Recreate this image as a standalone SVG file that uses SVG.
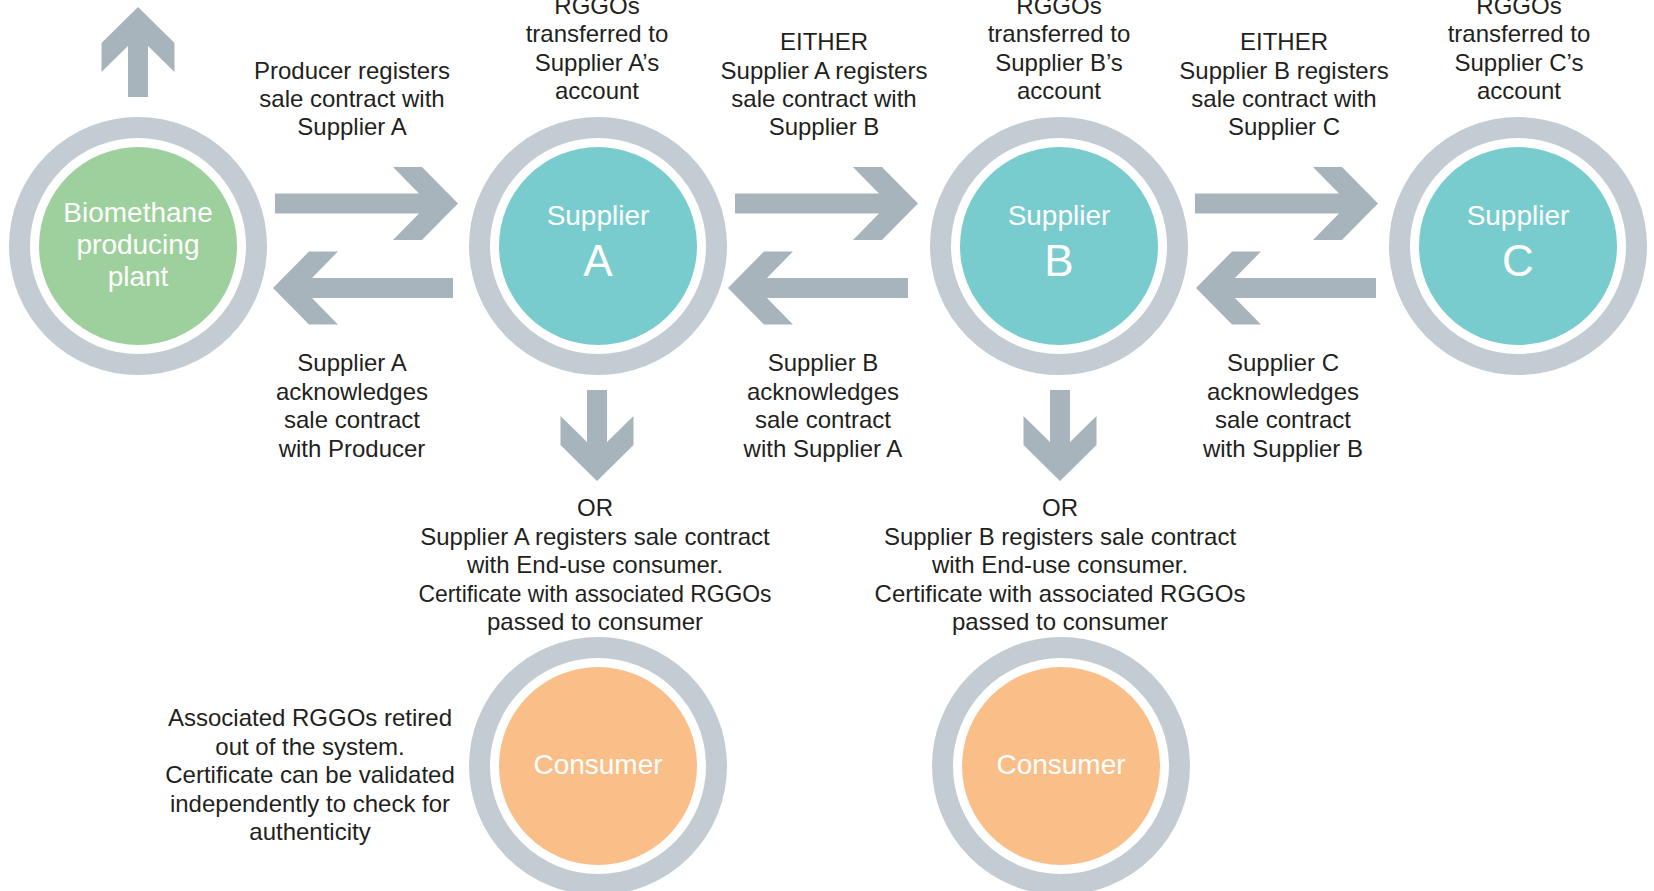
<svg xmlns="http://www.w3.org/2000/svg" width="1654" height="891" viewBox="0 0 1654 891">
<style>
.ring{fill:#ffffff;stroke:#C2CCD2;stroke-width:21}
.green{fill:#9DD09C}
.teal{fill:#79CCCE}
.orange{fill:#FABE89}
.arr{fill:#A8B4BC}
.lbl{font-family:"Liberation Sans",Arial,sans-serif;font-size:24px;fill:#231F20;text-anchor:middle}
.in{font-family:"Liberation Sans",Arial,sans-serif;font-size:28px;fill:#ffffff;text-anchor:middle}
.big{font-family:"Liberation Sans",Arial,sans-serif;font-size:44px;fill:#ffffff;text-anchor:middle}
</style>
<rect width="1654" height="891" fill="#ffffff"/>
<g id="connectors">
<polygon class="arr" points="128,97 128,46 101.5,72 101.5,43 138,7 174.5,43 174.5,72 148,46 148,97"/>
<polygon class="arr" points="275,193.5 419,193.5 393,167 422,167 458,203.5 422,240 393,240 419,213.5 275,213.5"/>
<polygon class="arr" points="735,193.5 879,193.5 853,167 882,167 918,203.5 882,240 853,240 879,213.5 735,213.5"/>
<polygon class="arr" points="1195,193.5 1339,193.5 1313,167 1342,167 1378,203.5 1342,240 1313,240 1339,213.5 1195,213.5"/>
<polygon class="arr" points="453,278 312,278 338,251.5 309,251.5 273,288 309,324.5 338,324.5 312,298 453,298"/>
<polygon class="arr" points="908,278 767,278 793,251.5 764,251.5 728,288 764,324.5 793,324.5 767,298 908,298"/>
<polygon class="arr" points="1376,278 1235,278 1261,251.5 1232,251.5 1196,288 1232,324.5 1261,324.5 1235,298 1376,298"/>
<polygon class="arr" points="587,390 587,442 560.5,416 560.5,445 597,481 633.5,445 633.5,416 607,442 607,390"/>
<polygon class="arr" points="1050,390 1050,442 1023.5,416 1023.5,445 1060,481 1096.5,445 1096.5,416 1070,442 1070,390"/>
</g>
<g id="plant">
<circle class="ring" cx="138" cy="246" r="118.5"/>
<circle class="green" cx="138" cy="246" r="99"/>
<text class="in" x="138" y="222">Biomethane</text>
<text class="in" x="138" y="253.5">producing</text>
<text class="in" x="138" y="286">plant</text>
</g>
<g id="supplierA">
<circle class="ring" cx="598" cy="246" r="118.5"/>
<circle class="teal" cx="598" cy="246" r="99"/>
<text class="in" x="598" y="225">Supplier</text>
<text class="big" x="598" y="276">A</text>
</g>
<g id="supplierB">
<circle class="ring" cx="1059" cy="246" r="118.5"/>
<circle class="teal" cx="1059" cy="246" r="99"/>
<text class="in" x="1059" y="225">Supplier</text>
<text class="big" x="1059" y="276">B</text>
</g>
<g id="supplierC">
<circle class="ring" cx="1518" cy="246" r="118.5"/>
<circle class="teal" cx="1518" cy="246" r="99"/>
<text class="in" x="1518" y="225">Supplier</text>
<text class="big" x="1518" y="276">C</text>
</g>
<g id="consumer1">
<circle class="ring" cx="598" cy="766" r="118.5"/>
<circle class="orange" cx="598" cy="766" r="99"/>
<text class="in" x="598" y="774">Consumer</text>
</g>
<g id="consumer2">
<circle class="ring" cx="1061" cy="766" r="118.5"/>
<circle class="orange" cx="1061" cy="766" r="99"/>
<text class="in" x="1061" y="774">Consumer</text>
</g>
<g id="labels">
<text class="lbl" x="597" y="14">RGGOs</text>
<text class="lbl" x="597" y="42">transferred to</text>
<text class="lbl" x="597" y="70.5">Supplier A’s</text>
<text class="lbl" x="597" y="99">account</text>
<text class="lbl" x="1059" y="14">RGGOs</text>
<text class="lbl" x="1059" y="42">transferred to</text>
<text class="lbl" x="1059" y="70.5">Supplier B’s</text>
<text class="lbl" x="1059" y="99">account</text>
<text class="lbl" x="1519" y="14">RGGOs</text>
<text class="lbl" x="1519" y="42">transferred to</text>
<text class="lbl" x="1519" y="70.5">Supplier C’s</text>
<text class="lbl" x="1519" y="99">account</text>
<text class="lbl" x="352" y="78.5">Producer registers</text>
<text class="lbl" x="352" y="106.5">sale contract with</text>
<text class="lbl" x="352" y="135">Supplier A</text>
<text class="lbl" x="824" y="49.5">EITHER</text>
<text class="lbl" x="824" y="78.5">Supplier A registers</text>
<text class="lbl" x="824" y="106.5">sale contract with</text>
<text class="lbl" x="824" y="135">Supplier B</text>
<text class="lbl" x="1284" y="49.5">EITHER</text>
<text class="lbl" x="1284" y="78.5">Supplier B registers</text>
<text class="lbl" x="1284" y="106.5">sale contract with</text>
<text class="lbl" x="1284" y="135">Supplier C</text>
<text class="lbl" x="352" y="371">Supplier A</text>
<text class="lbl" x="352" y="399.5">acknowledges</text>
<text class="lbl" x="352" y="428">sale contract</text>
<text class="lbl" x="352" y="456.5">with Producer</text>
<text class="lbl" x="823" y="371">Supplier B</text>
<text class="lbl" x="823" y="399.5">acknowledges</text>
<text class="lbl" x="823" y="428">sale contract</text>
<text class="lbl" x="823" y="456.5">with Supplier A</text>
<text class="lbl" x="1283" y="371">Supplier C</text>
<text class="lbl" x="1283" y="399.5">acknowledges</text>
<text class="lbl" x="1283" y="428">sale contract</text>
<text class="lbl" x="1283" y="456.5">with Supplier B</text>
<text class="lbl" x="595" y="516">OR</text>
<text class="lbl" x="595" y="544.5">Supplier A registers sale contract</text>
<text class="lbl" x="595" y="573">with End-use consumer.</text>
<text class="lbl" x="595" y="601.5" textLength="353" lengthAdjust="spacingAndGlyphs">Certificate with associated RGGOs</text>
<text class="lbl" x="595" y="630">passed to consumer</text>
<text class="lbl" x="1060" y="516">OR</text>
<text class="lbl" x="1060" y="544.5">Supplier B registers sale contract</text>
<text class="lbl" x="1060" y="573">with End-use consumer.</text>
<text class="lbl" x="1060" y="601.5">Certificate with associated RGGOs</text>
<text class="lbl" x="1060" y="630">passed to consumer</text>
<text class="lbl" x="310" y="726">Associated RGGOs retired</text>
<text class="lbl" x="310" y="754.5">out of the system.</text>
<text class="lbl" x="310" y="783">Certificate can be validated</text>
<text class="lbl" x="310" y="811.5">independently to check for</text>
<text class="lbl" x="310" y="840">authenticity</text>
</g>
</svg>
